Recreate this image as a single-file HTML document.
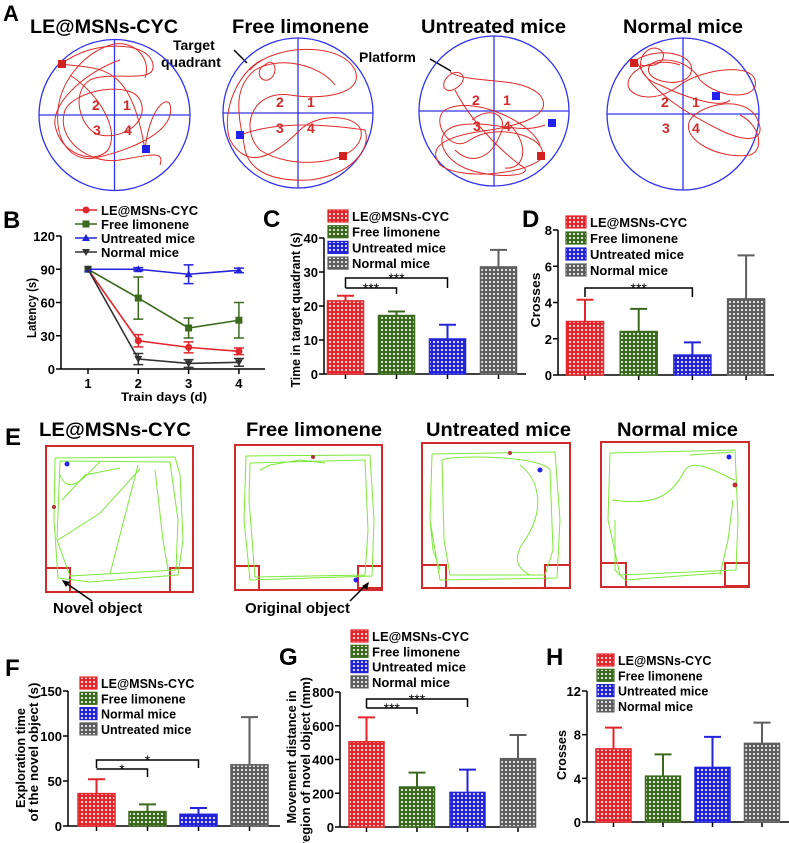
<!DOCTYPE html>
<html><head><meta charset="utf-8">
<style>
html,body{margin:0;padding:0;background:#fff;}
svg{display:block;font-family:"Liberation Sans",Arial,sans-serif;font-weight:bold;}
</style></head>
<body>
<svg id="fig" width="789" height="843" viewBox="0 0 789 843" xmlns="http://www.w3.org/2000/svg">
<defs>
<pattern id="p-red" width="4" height="4" patternUnits="userSpaceOnUse"><rect width="4" height="4" fill="#e3262b"/><rect x="1" y="1" width="2" height="2" fill="#fff" opacity="0.8"/></pattern>
<pattern id="p-green" width="4" height="4" patternUnits="userSpaceOnUse"><rect width="4" height="4" fill="#3b6a1f"/><rect x="1" y="1" width="2" height="2" fill="#fff" opacity="0.8"/></pattern>
<pattern id="p-blue" width="4" height="4" patternUnits="userSpaceOnUse"><rect width="4" height="4" fill="#2323d8"/><rect x="1" y="1" width="2" height="2" fill="#fff" opacity="0.8"/></pattern>
<pattern id="p-gray" width="4" height="4" patternUnits="userSpaceOnUse"><rect width="4" height="4" fill="#5e5e5e"/><rect x="1" y="1" width="2" height="2" fill="#fff" opacity="0.8"/></pattern>
</defs>

<!-- Panel A -->
<g>
<text x="3" y="21" font-size="22">A</text>
<text x="30" y="33" font-size="19" textLength="148" lengthAdjust="spacingAndGlyphs">LE@MSNs-CYC</text>
<text x="232" y="33" font-size="19" textLength="137" lengthAdjust="spacingAndGlyphs">Free limonene</text>
<text x="421" y="33" font-size="19" textLength="145" lengthAdjust="spacingAndGlyphs">Untreated mice</text>
<text x="623" y="33" font-size="19" textLength="120" lengthAdjust="spacingAndGlyphs">Normal mice</text>
<text x="173" y="50" font-size="14">Target</text>
<text x="161" y="67" font-size="14">quadrant</text>
<line x1="234" y1="50" x2="247" y2="63" stroke="#000" stroke-width="1.5"/>
<text x="359" y="62" font-size="14">Platform</text>
<line x1="430" y1="59" x2="451" y2="71" stroke="#000" stroke-width="1.5"/>

<g fill="none" stroke="#3333ee" stroke-width="1.3">
<circle cx="114.5" cy="115" r="75.5"/><line x1="39" y1="115" x2="190" y2="115"/><line x1="114.5" y1="39" x2="114.5" y2="190"/>
<circle cx="298" cy="113" r="75"/><line x1="223" y1="113" x2="373" y2="113"/><line x1="298" y1="38" x2="298" y2="188"/>
<circle cx="494" cy="111" r="75"/><line x1="419" y1="111" x2="569" y2="111"/><line x1="494" y1="36" x2="494" y2="186"/>
<circle cx="683" cy="114" r="76"/><line x1="607" y1="114" x2="759" y2="114"/><line x1="683" y1="38" x2="683" y2="190"/>
</g>
<g fill="none" stroke="#e02a2a" stroke-width="1">
<path d="M62,64 C90,40 150,40 153,65 C156,85 110,70 90,80 C70,92 80,130 100,135 C125,140 150,120 140,100 C130,80 75,90 65,110 C55,140 90,165 120,160 C150,155 165,150 160,165"/>
<path d="M62,64 C100,70 130,60 145,150 C150,100 175,90 170,115 C165,135 130,150 95,158 C70,162 55,140 58,110 C60,85 80,55 110,45 C135,38 152,60 145,78"/>
<path d="M70,75 C100,95 120,130 108,150 C95,165 60,155 55,125 C52,100 90,70 120,60"/>
<path d="M250,70 C270,45 340,40 355,70 C365,95 320,100 290,95 C250,90 240,130 260,150 C290,170 350,165 360,140 C370,115 320,110 300,130 C280,150 250,175 230,140 C220,110 240,70 262,60"/>
<path d="M240,135 C280,120 330,125 365,130 C372,150 350,175 310,180 C270,182 250,170 245,150 C240,120 230,90 255,70 C280,55 320,65 335,85"/>
<path d="M265,65 C275,55 280,75 268,80 C258,82 256,68 265,65"/>
<path d="M450,72 C470,85 520,75 540,95 C555,115 520,125 490,130 C450,135 425,145 440,165 C460,180 520,175 540,160 C555,140 500,120 470,140 C450,155 430,120 445,110 C470,95 530,120 540,145"/>
<path d="M445,80 C455,65 470,75 460,85 C450,95 440,90 445,80 M455,90 C470,120 500,150 520,165 C540,175 500,180 470,170 C440,160 430,130 460,125 C490,120 520,135 545,125"/>
<path d="M472,120 C490,105 510,115 500,135 C490,160 470,165 455,150 M510,125 C530,145 525,170 505,168"/>
<path d="M636,60 C660,45 700,55 690,75 C680,90 640,80 650,65 C660,55 690,60 700,80 C720,100 760,100 755,80 C750,62 700,70 680,85 C660,100 640,100 630,90 C620,75 650,55 680,65"/>
<path d="M636,60 C650,90 680,110 720,130 C750,145 770,140 755,115 C740,95 700,105 690,120 C680,140 720,160 750,155 C765,150 760,125 740,115"/>
<path d="M640,65 C665,70 670,50 655,48 C640,48 630,75 660,85 C680,95 720,110 730,100"/>
</g>
<rect x="58" y="60" width="8" height="8" fill="#d02020"/>
<rect x="142" y="145" width="8" height="8" fill="#2222ee"/>
<rect x="236" y="131" width="8" height="8" fill="#2222ee"/>
<rect x="339" y="152" width="8" height="8" fill="#d02020"/>
<rect x="548" y="119" width="8" height="8" fill="#2222ee"/>
<rect x="537" y="152" width="8" height="8" fill="#d02020"/>
<rect x="630" y="59" width="8" height="8" fill="#d02020"/>
<rect x="712" y="92" width="8" height="8" fill="#2222ee"/>
<g fill="#d02a2a" font-size="14">
<text x="92" y="110">2</text><text x="123" y="110">1</text><text x="93" y="135">3</text><text x="124" y="135">4</text>
<text x="276" y="107">2</text><text x="307" y="107">1</text><text x="276" y="133">3</text><text x="307" y="133">4</text>
<text x="472" y="105">2</text><text x="503" y="105">1</text><text x="473" y="131">3</text><text x="503" y="131">4</text>
<text x="661" y="107">2</text><text x="692" y="107">1</text><text x="662" y="133">3</text><text x="692" y="133">4</text>
</g>
</g>

<!-- Panel letters -->
<text x="3" y="228" font-size="24">B</text>
<text x="263" y="227" font-size="24">C</text>
<text x="522" y="227" font-size="24">D</text>
<text x="5" y="445" font-size="24">E</text>
<text x="5" y="676" font-size="24">F</text>
<text x="279" y="665" font-size="24">G</text>
<text x="546" y="665" font-size="24">H</text>

<!-- Panel E -->
<g>
<text x="39" y="436" font-size="19" textLength="152" lengthAdjust="spacingAndGlyphs">LE@MSNs-CYC</text>
<text x="246" y="436" font-size="19" textLength="136" lengthAdjust="spacingAndGlyphs">Free limonene</text>
<text x="426" y="436" font-size="19" textLength="145" lengthAdjust="spacingAndGlyphs">Untreated mice</text>
<text x="617" y="436" font-size="19" textLength="121" lengthAdjust="spacingAndGlyphs">Normal mice</text>
<g fill="none" stroke="#d02a2a" stroke-width="2">
<rect x="46" y="446" width="147" height="146"/><rect x="46" y="568" width="24" height="24"/><rect x="170" y="568" width="23" height="24"/>
<rect x="235" y="445" width="147" height="145"/><rect x="235" y="566" width="24" height="24"/><rect x="358" y="566" width="24" height="22"/>
<rect x="422" y="443" width="148" height="145"/><rect x="422" y="565" width="24" height="23"/><rect x="545" y="565" width="25" height="23"/>
<rect x="601" y="442" width="148" height="145"/><rect x="601" y="563" width="25" height="24"/><rect x="725" y="563" width="24" height="23"/>
</g>
<g fill="none" stroke="#7ee83a" stroke-width="1">
<path d="M55,458 L175,457 L180,475 L183,540 L178,575 L90,582 L58,578 L54,520 L55,458 M60,461 L170,462 L178,520 L176,570 L70,576 L57,540 L60,461 M58,540 L100,513 L140,469 M110,574 L138,465 M60,475 C70,500 90,470 100,462 M62,500 L85,475 L120,468 M155,470 L163,540 L168,570"/>
<path d="M246,456 L370,455 L374,520 L372,576 L250,580 L244,520 L246,456 M250,463 L365,460 L368,530 L365,575 L255,577 L249,500 L250,463 M260,470 L270,465 L300,460 M300,460 L325,463"/>
<path d="M432,454 L555,452 L560,520 L557,578 L440,580 L430,520 L432,454 M442,460 C450,455 540,455 550,470 L553,550 L545,575 L450,575 L444,540 L442,460 M520,465 C540,480 545,510 525,540 C510,560 520,570 530,575 M430,520 L433,550 L440,570"/>
<path d="M610,453 L735,450 L738,520 L736,570 L620,575 L608,520 L610,453 M612,500 C650,505 670,500 685,470 C695,455 730,480 735,480 M690,455 L733,452 M615,520 L615,570 L625,580 L720,573 M720,575 L728,540 L733,500"/>
</g>
<circle cx="67" cy="464" r="2.5" fill="#2222ee"/>
<circle cx="54" cy="507" r="2" fill="#b03030"/>
<circle cx="313" cy="457" r="2" fill="#b03030"/>
<circle cx="356" cy="580" r="2.5" fill="#2222ee"/>
<circle cx="510" cy="453" r="2" fill="#c03030"/>
<circle cx="540" cy="470" r="2.5" fill="#2222ee"/>
<circle cx="729" cy="457" r="2.5" fill="#2222ee"/>
<circle cx="735" cy="485" r="2.5" fill="#c03030"/>
<text x="53" y="613" font-size="15">Novel object</text>
<line x1="92" y1="601" x2="63" y2="581" stroke="#000" stroke-width="1.5"/>
<path d="M62,580 L70,582 L66,587 Z" fill="#000"/>
<text x="245" y="613" font-size="15">Original object</text>
<line x1="350" y1="601" x2="368" y2="583" stroke="#000" stroke-width="1.5"/>
<path d="M369,582 L367,590 L362,586 Z" fill="#000"/>
</g>

<g id="charts"></g>
</svg>

<script>
// ---- Panel B data ----
const days = [1, 2, 3, 4];
const bTicks = [0, 30, 60, 90, 120];
const latLE = [90, 25.5, 19.5, 16];
const errLE = [0, 5.5, 5, 3];
const latFree = [90, 64, 37, 44];
const errFree = [0, 19, 9, 16];
const latUnt = [90, 90, 85.5, 89];
const errUnt = [0, 1.5, 8.5, 2];
const latNorm = [90, 9, 5, 6];
const errNorm = [0, 5, 3.5, 3.5];
const bLabels = ['LE@MSNs-CYC', 'Free limonene', 'Untreated mice', 'Normal mice'];

// ---- Bar chart data ----
const catsC = ['LE@MSNs-CYC', 'Free limonene', 'Untreated mice', 'Normal mice'];
const valsC = [21.5, 17.2, 10.3, 31.5];
const errC = [1.5, 1.2, 4.2, 5];
const ticksC = [0, 10, 20, 30, 40];

const catsD = ['LE@MSNs-CYC', 'Free limonene', 'Untreated mice', 'Normal mice'];
const valsD = [2.95, 2.4, 1.1, 4.2];
const errD = [1.2, 1.25, 0.7, 2.4];
const ticksD = [0, 2, 4, 6, 8];

const catsF = ['LE@MSNs-CYC', 'Free limonene', 'Normal mice', 'Untreated mice'];
const valsF = [36, 16, 13, 68];
const errF = [16, 8, 7, 53];
const ticksF = [0, 50, 100, 150];

const catsG = ['LE@MSNs-CYC', 'Free limonene', 'Untreated mice', 'Normal mice'];
const valsG = [505, 237, 205, 405];
const errG = [145, 85, 135, 140];
const ticksG = [0, 200, 400, 600, 800];

const catsH = ['LE@MSNs-CYC', 'Free limonene', 'Untreated mice', 'Normal mice'];
const valsH = [6.7, 4.2, 5.0, 7.2];
const errH = [1.95, 2.0, 2.8, 1.9];
const ticksH = [0, 4, 8, 12];

const NS = 'http://www.w3.org/2000/svg';
const root = document.getElementById('charts');
const fills = ['url(#p-red)', 'url(#p-green)', 'url(#p-blue)', 'url(#p-gray)'];
const strokes = ['#e3262b', '#3b6a1f', '#2323d8', '#5e5e5e'];

function mk(parent, tag, attrs, txt) {
  const e = document.createElementNS(NS, tag);
  for (const k in attrs) e.setAttribute(k, attrs[k]);
  if (txt !== undefined) e.textContent = txt;
  parent.appendChild(e);
  return e;
}

function yAxisTitle(g, titles) {
  titles.forEach(t => {
    const el = mk(g, 'text', {x: 0, y: 0, 'font-size': 13, 'text-anchor': 'middle',
      textLength: t[3], lengthAdjust: 'spacingAndGlyphs',
      transform: 'translate(' + t[1] + ',' + t[2] + ') rotate(-90)'}, t[0]);
    
    
  });
}

function barChart(name, cfg, cats, vals, errs, ticks) {
  const g = mk(root, 'g', {});
  
  
  const yMax = ticks[ticks.length - 1];
  const y = v => cfg.y0 - (v / yMax) * (cfg.y0 - cfg.yTop);
  const x = i => cfg.first + i * cfg.step;
  const ya = mk(g, 'line', {x1: cfg.x0, y1: cfg.y0, x2: cfg.x0, y2: cfg.yTop, stroke: '#000', 'stroke-width': 1.5});
  
  
  const xa = mk(g, 'line', {x1: cfg.x0, y1: cfg.y0, x2: cfg.xEnd, y2: cfg.y0, stroke: '#000', 'stroke-width': 1.5});
  
  
  ticks.forEach(t => {
    mk(g, 'line', {x1: cfg.x0 - 5, y1: y(t), x2: cfg.x0, y2: y(t), stroke: '#000', 'stroke-width': 1.5});
    const tl = mk(g, 'text', {x: cfg.x0 - 6, y: y(t) + 5, 'font-size': 13, 'text-anchor': 'end'}, String(t));
    
    
  });
  vals.forEach((v, i) => {
    mk(g, 'line', {x1: x(i), y1: cfg.y0, x2: x(i), y2: cfg.y0 + 5, stroke: '#000', 'stroke-width': 1.5});
    const top = y(v + errs[i]);
    const eb = mk(g, 'path', {d: 'M' + x(i) + ',' + y(v) + 'V' + top + 'M' + (x(i) - 8.5) + ',' + top + 'H' + (x(i) + 8.5),
      stroke: strokes[i], 'stroke-width': 2, fill: 'none'});
    
    
    const b = mk(g, 'rect', {x: x(i) - cfg.bw / 2, y: y(v), width: cfg.bw, height: cfg.y0 - y(v),
      fill: fills[i], stroke: strokes[i], 'stroke-width': 1.5});
    
    
  });
  cats.forEach((c, i) => {
    const ly = cfg.legY + i * cfg.legStep;
    const sw = mk(g, 'rect', {x: cfg.legX, y: ly - 6, width: cfg.legW, height: 12, fill: fills[i], stroke: strokes[i], 'stroke-width': 1.2});
    
    
    const lt = mk(g, 'text', {x: cfg.legX + cfg.legW + 4, y: ly + 5, 'font-size': cfg.legFont}, c);
    
    
  });
  (cfg.brackets || []).forEach(br => {
    const x1 = x(br.a), x2 = x(br.b);
    const p = mk(g, 'path', {d: 'M' + x1 + ',' + (br.y + br.dl) + 'V' + br.y + 'H' + x2 + 'V' + (br.y + br.dr), stroke: '#000', 'stroke-width': 1.5, fill: 'none'});
    
    
    const st = mk(g, 'text', {x: (x1 + x2) / 2, y: br.y + 5, 'font-size': 14, 'text-anchor': 'middle', 'font-weight': 'normal'}, br.s);
    
    
  });
  yAxisTitle(g, cfg.titles);
}

barChart('panel-c-chart', {x0: 324, y0: 374, yTop: 238, xEnd: 526, first: 345.5, step: 51, bw: 36,
  legX: 328, legY: 216, legStep: 15.7, legW: 20, legFont: 13,
  brackets: [{a: 0, b: 2, y: 278, dl: 10, dr: 10, s: '***'}, {a: 0, b: 1, y: 288, dl: 0, dr: 6, s: '***'}],
  titles: [['Time in target quadrant (s)', 300, 310, 155]]}, catsC, valsC, errC, ticksC);

barChart('panel-d-chart', {x0: 558, y0: 375, yTop: 230, xEnd: 774, first: 585, step: 53.7, bw: 37,
  legX: 566, legY: 222, legStep: 16, legW: 20, legFont: 13,
  brackets: [{a: 0, b: 2, y: 288, dl: 9, dr: 9, s: '***'}],
  titles: [['Crosses', 540, 300, 55]]}, catsD, valsD, errD, ticksD);

barChart('panel-f-chart', {x0: 68, y0: 826, yTop: 691, xEnd: 280, first: 96.5, step: 51, bw: 37,
  legX: 80, legY: 683, legStep: 15.3, legW: 17, legFont: 12.5,
  brackets: [{a: 0, b: 2, y: 760, dl: 8, dr: 8, s: '*'}, {a: 0, b: 1, y: 769, dl: 0, dr: 8, s: '*'}],
  titles: [['Exploration time', 25, 758, 100], ['of the novel object (s)', 38, 752, 139]]}, catsF, valsF, errF, ticksF);

barChart('panel-g-chart', {x0: 340, y0: 827, yTop: 692, xEnd: 530, first: 366.5, step: 50.5, bw: 35,
  legX: 351, legY: 636, legStep: 15.3, legW: 17, legFont: 13,
  brackets: [{a: 0, b: 2, y: 699, dl: 9, dr: 8, s: '***'}, {a: 0, b: 1, y: 708, dl: 0, dr: 6, s: '***'}],
  titles: [['Movement distance in', 296, 757, 133], ['region of novel object (mm)', 310, 762, 170]]}, catsG, valsG, errG, ticksG);

barChart('panel-h-chart', {x0: 587, y0: 822, yTop: 691, xEnd: 789, first: 613.5, step: 49.5, bw: 35,
  legX: 597, legY: 660, legStep: 15.3, legW: 17, legFont: 12.5,
  brackets: [], titles: [['Crosses', 566, 755, 50]]}, catsH, valsH, errH, ticksH);

// ---- Panel B line chart ----
(function () {
  const g = mk(root, 'g', {});
  
  
  const x0 = 61, y0 = 369, yTop = 236, xEnd = 265;
  const yMax = bTicks[bTicks.length - 1];
  const y = v => y0 - (v / yMax) * (y0 - yTop);
  const x = d => 88 + (d - 1) * 50.3;
  const ya = mk(g, 'line', {x1: x0, y1: y0, x2: x0, y2: yTop, stroke: '#000', 'stroke-width': 1.5});
  
  
  const xa = mk(g, 'line', {x1: x0, y1: y0, x2: xEnd, y2: y0, stroke: '#000', 'stroke-width': 1.5});
  
  
  bTicks.forEach(t => {
    mk(g, 'line', {x1: x0 - 5, y1: y(t), x2: x0, y2: y(t), stroke: '#000', 'stroke-width': 1.5});
    const tl = mk(g, 'text', {x: x0 - 6, y: y(t) + 5, 'font-size': 13, 'text-anchor': 'end'}, String(t));
    
    
  });
  days.forEach(d => {
    mk(g, 'line', {x1: x(d), y1: y0, x2: x(d), y2: y0 + 5, stroke: '#000', 'stroke-width': 1.5});
    const tl = mk(g, 'text', {x: x(d), y: y0 + 19, 'font-size': 13, 'text-anchor': 'middle'}, String(d));
    
    
  });
  const xt = mk(g, 'text', {x: 164, y: 401, 'font-size': 12, 'text-anchor': 'middle', textLength: 86, lengthAdjust: 'spacingAndGlyphs'}, 'Train days (d)');
  
  
  yAxisTitle(g, [['Latency (s)', 36, 308, 60]]);

  const series = [[latLE, errLE, '#e3262b', 'circle'], [latFree, errFree, '#3b6a1f', 'square'],
                  [latUnt, errUnt, '#2323d8', 'tri'], [latNorm, errNorm, '#333', 'tridown']];
  function marker(parent, kind, cx, cy, col) {
    let m;
    if (kind === 'circle') m = mk(parent, 'circle', {cx: cx, cy: cy, r: 3.5, fill: col});
    else if (kind === 'square') m = mk(parent, 'rect', {x: cx - 3.5, y: cy - 3.5, width: 7, height: 7, fill: col});
    else if (kind === 'tri') m = mk(parent, 'path', {d: 'M' + cx + ',' + (cy - 4) + 'l4,7h-8z', fill: col});
    else m = mk(parent, 'path', {d: 'M' + cx + ',' + (cy + 4) + 'l4,-7h-8z', fill: col});
    return m;
  }
  series.forEach((s, si) => {
    const [vals, errs, col, kind] = s;
    const sg = mk(g, 'g', {});
    
    
    const ln = mk(sg, 'polyline', {points: days.map((d, i) => x(d) + ',' + y(vals[i])).join(' '), fill: 'none', stroke: col, 'stroke-width': 1.6});
    
    
    days.forEach((d, i) => {
      if (errs[i] > 0) {
        const e = mk(sg, 'path', {d: 'M' + x(d) + ',' + y(vals[i] - errs[i]) + 'V' + y(vals[i] + errs[i]) +
          'M' + (x(d) - 5) + ',' + y(vals[i] - errs[i]) + 'h10M' + (x(d) - 5) + ',' + y(vals[i] + errs[i]) + 'h10',
          stroke: col, 'stroke-width': 1.5, fill: 'none'});
        
        
      }
      const m = marker(sg, kind, x(d), y(vals[i]), col);
      
      
    });
    const ly = 210 + si * 14;
    const ll = mk(g, 'line', {x1: 75, y1: ly, x2: 97, y2: ly, stroke: col, 'stroke-width': 1.6});
    
    
    const lm = marker(g, kind, 86, ly, col);
    
    
    const lt = mk(g, 'text', {x: 101, y: ly + 5, 'font-size': 13}, bLabels[si]);
    
    
  });
})();
</script>
</body></html>
